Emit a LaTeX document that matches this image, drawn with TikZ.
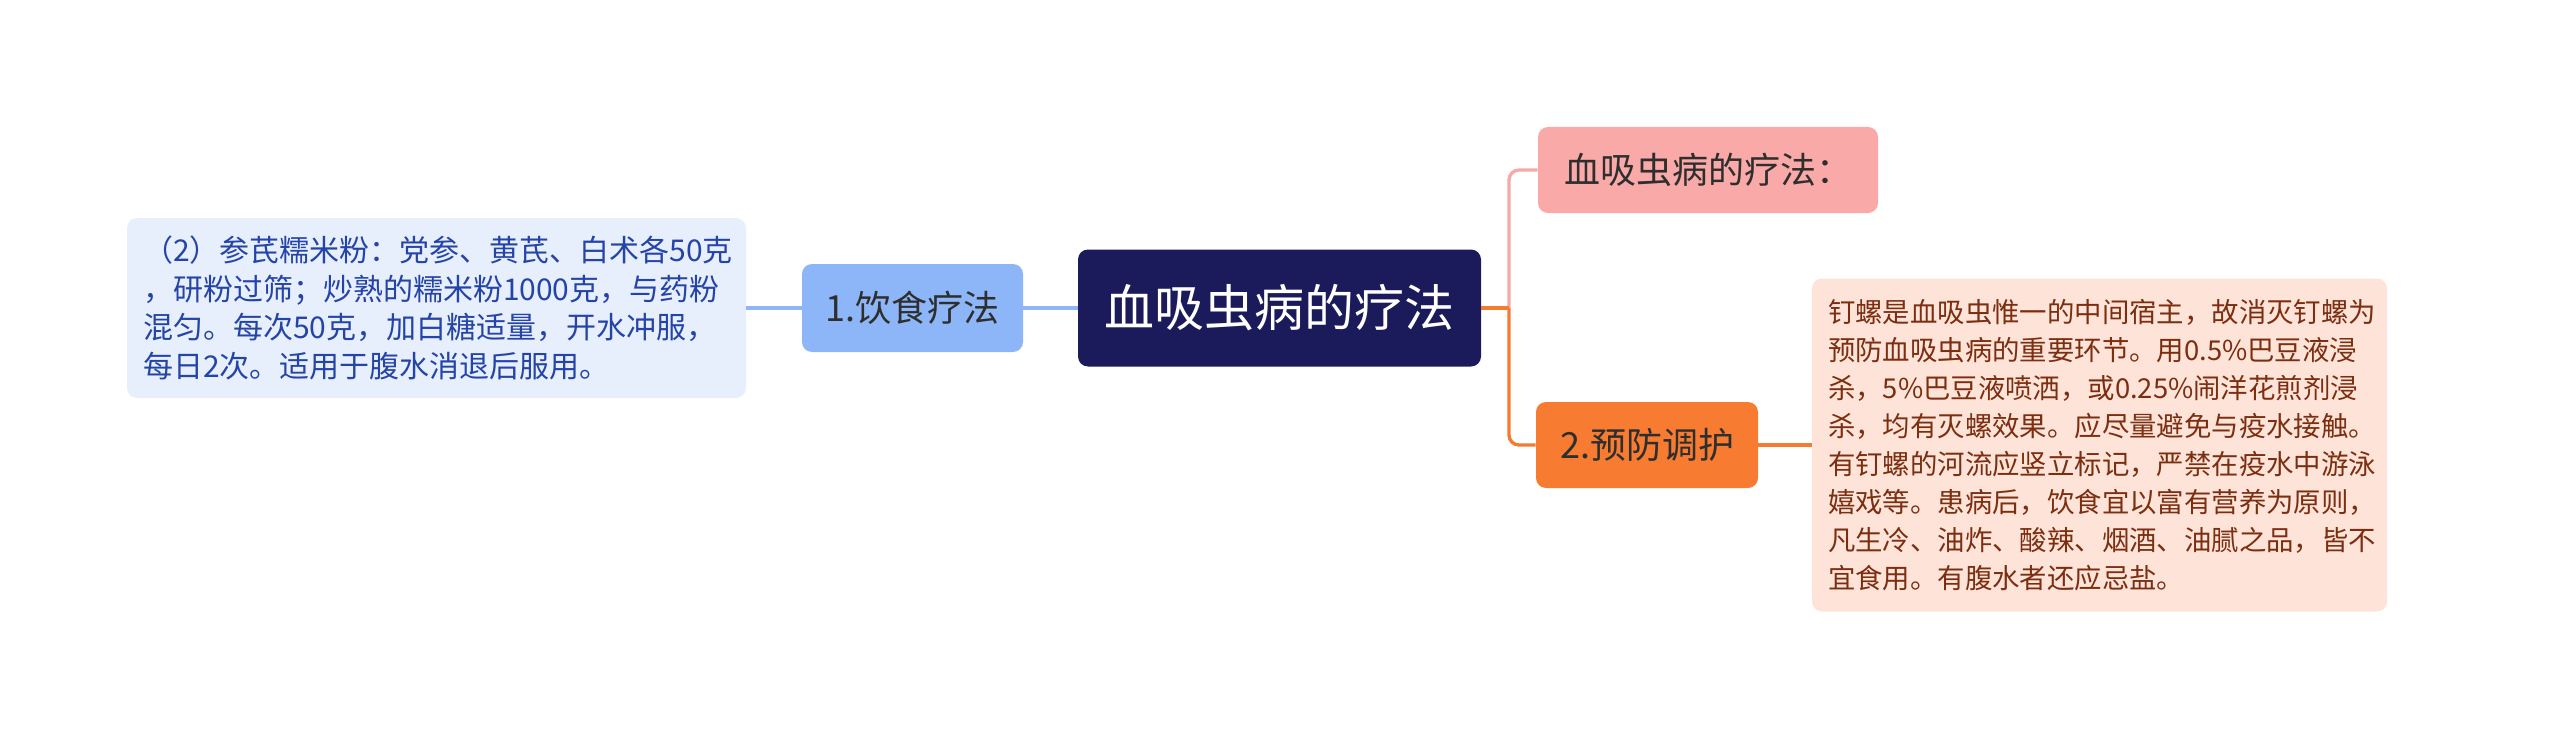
\documentclass[tikz,border=0pt]{standalone}
\usepackage{fontspec}
\setmainfont{Noto Sans CJK SC}

\definecolor{rootfill}{HTML}{1B1A5B}
\definecolor{curefill}{HTML}{F9AAA8}
\definecolor{preventfill}{HTML}{F77C31}
\definecolor{notefill}{HTML}{FDE3D8}
\definecolor{dietfill}{HTML}{8DB6F8}
\definecolor{dietnotefill}{HTML}{E7EFFC}
\definecolor{textdark}{HTML}{2E2E2E}
\definecolor{notetext}{HTML}{7B2E10}
\definecolor{dietnotetext}{HTML}{2544A8}
\definecolor{pinkline}{HTML}{F7A9A7}
\definecolor{orangeline}{HTML}{F47B2F}
\definecolor{blueline}{HTML}{8DB6F8}

\tikzset{
    box/.style={rounded corners=5pt, inner sep=0pt, align=center, text=textdark},
    topic/.style={box, font=\fontsize{18}{22}\selectfont},
    note/.style={box, align=left, inner xsep=8pt, font=\fontsize{13.7}{19}\selectfont},
    link/.style={line width=1.65pt}
}

\begin{document}
\begin{tikzpicture}[x=0.5pt, y=-0.5pt]
    \useasboundingbox (0,0) rectangle (2560,738);

    % uzly
    \node[box, fill=rootfill, text=white, minimum width=201.5pt, minimum height=58.5pt,
        font=\fontsize{25}{30}\selectfont] (root) at (1279.5,308) {血吸虫病的疗法};

    \node[topic, fill=curefill, minimum width=170pt, minimum height=43pt] (cure) at (1708,170) {血吸虫病的疗法：};
    \node[topic, fill=preventfill, minimum width=111pt, minimum height=43pt] (prevent) at (1647,445) {2.预防调护};
    \node[topic, fill=dietfill, minimum width=110.5pt, minimum height=44pt] (diet) at (912.5,308) {1.饮食疗法};

    \node[note, fill=notefill, text=notetext, text width=271.5pt, minimum height=166.5pt] (preventnote) at (2099.5,445)
        {钉螺是血吸虫惟一的中间宿主，故消灭钉螺为\\
         预防血吸虫病的重要环节。用0.5\%巴豆液浸\\
         杀，5\%巴豆液喷洒，或0.25\%闹洋花煎剂浸\\
         杀，均有灭螺效果。应尽量避免与疫水接触。\\
         有钉螺的河流应竖立标记，严禁在疫水中游泳\\
         嬉戏等。患病后，饮食宜以富有营养为原则，\\
         凡生冷、油炸、酸辣、烟酒、油腻之品，皆不\\
         宜食用。有腹水者还应忌盐。};

    \node[note, fill=dietnotefill, text=dietnotetext, inner xsep=8pt, text width=293.5pt, minimum height=90pt,
        font=\fontsize{15}{19.2}\selectfont] (dietnote) at (436.5,308)
        {（2）参芪糯米粉：党参、黄芪、白术各50克\\
         ，研粉过筛；炒熟的糯米粉1000克，与药粉\\
         混匀。每次50克，加白糖适量，开水冲服，\\
         每日2次。适用于腹水消退后服用。};

    % spojnice
    \coordinate (fork) at (1509,308);
    \draw[link, pinkline, rounded corners=5pt] (fork) |- (cure.west);
    \draw[link, orangeline, rounded corners=5pt] (fork) |- (prevent.west);
    \draw[link, orangeline] (root.east) -- (fork);
    \draw[link, orangeline] (prevent.east) -- (preventnote.west);

    \draw[link, blueline] (root.west) -- (diet.east);
    \draw[link, blueline] (diet.west) -- (dietnote.east);

\end{tikzpicture}
\end{document}
